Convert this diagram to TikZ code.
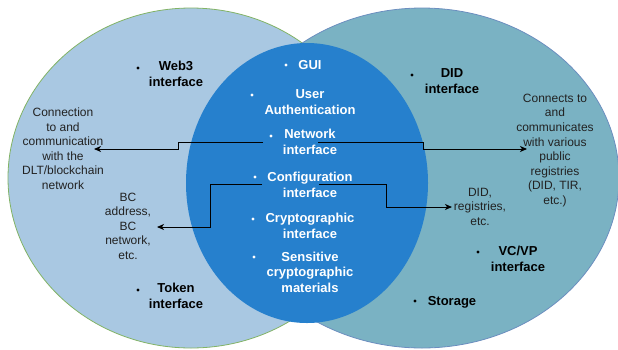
\documentclass[tikz,border=0pt]{standalone}
\usepackage{fontspec}
\setmainfont{Liberation Sans}
\usetikzlibrary{arrows.meta}

\definecolor{leftfill}{HTML}{A9C8E2}
\definecolor{leftline}{HTML}{82B366}
\definecolor{rightfill}{HTML}{7AB2C3}
\definecolor{rightline}{HTML}{6C8EBF}
\definecolor{corefill}{HTML}{2680CD}
\definecolor{plaintext}{HTML}{222222}

\begin{document}
\begin{tikzpicture}[x=1pt,y=-1pt,
  % multi-line nodes: the base anchor sits on the last line
  plain/.style={font=\fontsize{12}{14.6}\selectfont, text=plaintext, align=center, anchor=base, inner sep=0pt},
  label/.style={font=\fontsize{13}{15.7}\selectfont\bfseries, text=black, align=center, anchor=base, inner sep=0pt},
  corelabel/.style={label, text=white},
  bullet/.style={circle, fill=black, inner sep=0pt, minimum size=3.4pt},
  corebullet/.style={bullet, fill=white},
  link/.style={draw=black, line width=0.9pt, -{Stealth[length=7pt,width=6pt,inset=2pt]}}
]
\useasboundingbox (0,0) rectangle (618,349);

% three overlapping regions
\draw[fill=leftfill, draw=leftline, line width=0.8pt] (191,178) ellipse [x radius=183, y radius=170];
\draw[fill=rightfill, draw=rightline, line width=0.8pt] (422,178) ellipse [x radius=197, y radius=170];
\fill[corefill] (307,183) ellipse [x radius=121, y radius=140];

% connector end points
\coordinate (netL) at (263,142);
\coordinate (netR) at (318,142);
\coordinate (cfgL) at (262,184);
\coordinate (cfgR) at (319,184);
\coordinate (dltIn) at (94,149);
\coordinate (pubIn) at (527,149);
\coordinate (bcIn) at (157,227);
\coordinate (regIn) at (452,207);

\draw[link] (netL) -- ++(-85,0) |- (dltIn);
\draw[link] (netR) -- ++(105,0) |- (pubIn);
\draw[link] (cfgL) -- ++(-52,0) |- (bcIn);
\draw[link] (cfgR) -- ++(67,0) |- (regIn);

% left region
\node[bullet] (b-web3) at (138,68) {};
\node[label] (web3) at (176,86.5) {Web3\\interface};
\node[bullet] (b-token) at (138,290) {};
\node[label] (token) at (176,308.5) {Token\\interface};
\node[plain] (dlt) at (63,189.5) {Connection\\to and\\communication\\with the\\DLT/blockchain\\network};
\node[plain] (bc) at (128,259.5) {BC\\address,\\BC\\network,\\etc.};

% right region
\node[bullet] (b-did) at (412,75) {};
\node[label] (did) at (452,93.5) {DID\\interface};
\node[bullet] (b-vcvp) at (478,252) {};
\node[label] (vcvp) at (518,271.5) {VC/VP\\interface};
\node[bullet] (b-storage) at (415,301) {};
\node[label] (storage) at (452,305.5) {Storage};
\node[plain] (pub) at (555,204.5) {Connects to\\and\\communicates\\with various\\public\\registries\\(DID, TIR,\\etc.)};
\node[plain] (didreg) at (480,225.5) {DID,\\registries,\\etc.};

% shared core
\node[corebullet] (b-gui) at (286,65) {};
\node[corelabel] (gui) at (310,69.5) {GUI};
\node[corebullet] (b-user) at (252,95) {};
\node[corelabel] (user) at (310,114.5) {User\\Authentication};
\node[corebullet] (b-net) at (271,136) {};
\node[corelabel] (net) at (310,154.5) {Network\\interface};
\node[corebullet] (b-cfg) at (255,177) {};
\node[corelabel] (cfg) at (310,197.5) {Configuration\\interface};
\node[corebullet] (b-crypto) at (253,219) {};
\node[corelabel] (crypto) at (310,238.5) {Cryptographic\\interface};
\node[corebullet] (b-sens) at (254,257) {};
\node[corelabel] (sens) at (310,292.5) {Sensitive\\cryptographic\\materials};
\end{tikzpicture}
\end{document}
